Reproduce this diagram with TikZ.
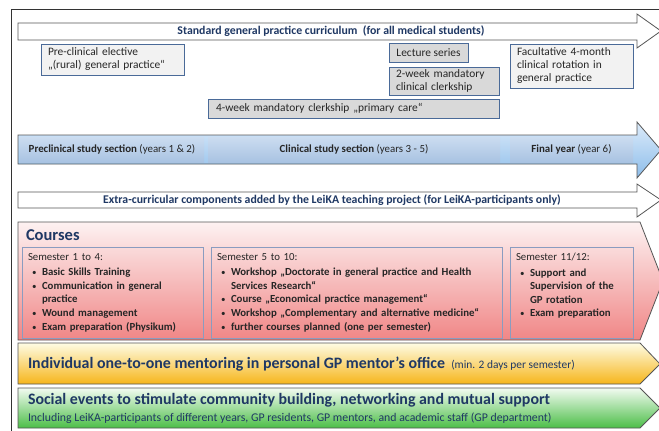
\documentclass[tikz,border=0pt]{standalone}
\usepackage{fontspec}
\setmainfont{Carlito}
\hyphenpenalty=10000
\exhyphenpenalty=10000
\definecolor{navy}{HTML}{1F3864}
\definecolor{bodytext}{HTML}{262626}
\definecolor{boxblue}{HTML}{4A6A98}
\definecolor{subblue}{HTML}{8A9CC0}
\definecolor{arrowgray}{HTML}{555555}
\definecolor{framegray}{HTML}{333333}
\definecolor{lightgray}{HTML}{F2F2F2}
\definecolor{midgray}{HTML}{D9D9D9}
\definecolor{blueTop}{HTML}{DCEBFA}
\definecolor{blueBot}{HTML}{8DBDEA}
\definecolor{segTop}{HTML}{CBDCF0}
\definecolor{segBot}{HTML}{A9C3E2}
\definecolor{redTop}{HTML}{FDF2F2}
\definecolor{redBot}{HTML}{F08686}
\definecolor{yelTop}{HTML}{FEFCE4}
\definecolor{yelBot}{HTML}{F6B51A}
\definecolor{grnTop}{HTML}{F2FBF1}
\definecolor{grnBot}{HTML}{4CBE48}
\newcommand{\bitem}[1]{\par\hangindent=14pt\hangafter=1\noindent\hspace*{4pt}\makebox[10pt][l]{\mdseries\small\textbullet}#1}
\tikzset{
  arrowline/.style={draw=arrowgray, line width=0.8pt},
  gbox/.style={draw=boxblue, line width=0.7pt, anchor=north west, inner xsep=7pt, inner ysep=0pt,
    align=left, text=bodytext, font=\fontsize{11.4}{13}\selectfont},
  seg/.style={anchor=north west, top color=segTop, bottom color=segBot, draw=none,
    text=bodytext, font=\fontsize{10.9}{12}\selectfont},
  sbox/.style={draw=subblue, line width=0.6pt, anchor=north west},
  stext/.style={anchor=north west, align=left, text=bodytext,
    font=\fontsize{10.8}{13.6}\selectfont},
  title/.style={text=navy, font=\fontsize{11.8}{13}\selectfont\bfseries},
  bigtitle/.style={anchor=west, text=navy, font=\fontsize{15.9}{17}\selectfont\bfseries},
}
\begin{document}
\begin{tikzpicture}[x=1pt,y=-1pt, every node/.style={inner sep=0pt, outer sep=0pt}]
\clip (0,0) rectangle (659,431);
\fill[white] (0,0) rectangle (659,431);
% outer frame
\draw[draw=framegray, line width=0.8pt] (11,9) rectangle (700,500);

% standard curriculum arrow
\draw[arrowline, fill=white] (18,23) -- (637,23) -- (637,14) -- (661,31) -- (637,48) -- (637,40) -- (18,40) -- cycle;
\node[title] (std) at (331,31) {Standard general practice curriculum\ \ (for all medical students)};

% boxes
\node[gbox, fill=lightgray, minimum width=143pt, minimum height=31pt, text width=129pt] (pre) at (41,44)
  {Pre-clinical elective\\„(rural) general practice“};
\node[gbox, fill=midgray, minimum width=79pt, minimum height=19pt] (lec) at (389,43)
  {Lecture series};
\node[gbox, fill=midgray, minimum width=110pt, minimum height=28pt, text width=96pt] (two) at (389,67)
  {2-week mandatory\\clinical clerkship};
\node[gbox, fill=lightgray, minimum width=123pt, minimum height=44pt, text width=109pt] (fac) at (510,44)
  {Facultative 4-month\\clinical rotation in\\general practice};
\node[gbox, fill=midgray, minimum width=291pt, minimum height=19pt, text width=275pt, inner xsep=8pt] (four) at (208,99)
  {4-week mandatory clerkship „primary care“};

% study sections arrow
\shade[top color=blueTop, bottom color=blueBot] (18,135) -- (637,135) -- (637,122) -- (661,150) -- (637,178) -- (637,164) -- (18,164) -- cycle;
\node[seg, minimum width=184pt, minimum height=25pt] (secpre) at (20,137)
  {\textbf{Preclinical study section} (years 1 \& 2)};
\node[seg, minimum width=292pt, minimum height=25pt] (secclin) at (208,137)
  {\textbf{Clinical study section} (years 3 - 5)};
\node[seg, minimum width=123pt, minimum height=25pt] (secfin) at (510,137)
  {\textbf{Final year} (year 6)};
\draw[arrowline] (18,135) -- (637,135) -- (637,122) -- (661,150) -- (637,178) -- (637,164) -- (18,164) -- cycle;

% extra-curricular arrow
\draw[arrowline, fill=white] (18,192) -- (637,192) -- (637,184) -- (661,200) -- (637,217) -- (637,208) -- (18,208) -- cycle;
\node[title] (extra) at (332,200) {Extra-curricular components added by the LeiKA teaching project (for LeiKA-participants only)};

% courses
\shade[top color=redTop, bottom color=redBot] (18,222) -- (640,222) -- (663,281) -- (640,340) -- (18,340) -- cycle;
\draw[arrowline] (18,222) -- (640,222) -- (663,281) -- (640,340) -- (18,340) -- cycle;
\node[bigtitle, font=\fontsize{16.5}{18}\selectfont\bfseries] (courses) at (26,235) {Courses};

\node[sbox, minimum width=181pt, minimum height=91pt] (s1) at (22,247) {};
\node[sbox, minimum width=291pt, minimum height=91pt] (s2) at (211,247) {};
\node[sbox, minimum width=123pt, minimum height=91pt] (s3) at (510,247) {};

\node[stext, text width=170pt] (s1t) at (28,253) {Semester 1 to 4:\par\vspace{2pt}
  \bfseries
  \bitem{Basic Skills Training}
  \bitem{Communication in general practice}
  \bitem{Wound management}
  \bitem{Exam preparation (Physikum)}};
\node[stext, text width=278pt] (s2t) at (217,253) {Semester 5 to 10:\par\vspace{2pt}
  \bfseries
  \bitem{Workshop „Doctorate in general practice and Health Services Research“}
  \bitem{Course „Economical practice management“}
  \bitem{Workshop „Complementary and alternative medicine“}
  \bitem{further courses planned (one per semester)}};
\node[stext, text width=112pt] (s3t) at (516,253) {Semester 11/12:\par\vspace{2pt}
  \bfseries
  \bitem{Support and Supervision of the GP rotation}
  \bitem{Exam preparation}};

% mentoring
\shade[top color=yelTop, bottom color=yelBot] (18,343) -- (640,343) -- (660,364) -- (640,384) -- (18,384) -- cycle;
\draw[arrowline] (18,343) -- (640,343) -- (660,364) -- (640,384) -- (18,384) -- cycle;
\node[bigtitle] (mentor) at (28,364) {Individual one-to-one mentoring in personal GP mentor’s office\ \,{\fontsize{11.4}{13}\selectfont\mdseries (min. 2 days per semester)}};

% social events
\shade[top color=grnTop, bottom color=grnBot] (18,388) -- (640,388) -- (660,408) -- (640,428) -- (18,428) -- cycle;
\draw[arrowline] (18,388) -- (640,388) -- (660,408) -- (640,428) -- (18,428) -- cycle;
\node[bigtitle] (social) at (28,400) {Social events to stimulate community building, networking and mutual support};
\node[anchor=west, text=navy, font=\fontsize{11.8}{13}\selectfont] (incl) at (28,418)
  {Including LeiKA-participants of different years, GP residents, GP mentors, and academic staff (GP department)};
\end{tikzpicture}
\end{document}
